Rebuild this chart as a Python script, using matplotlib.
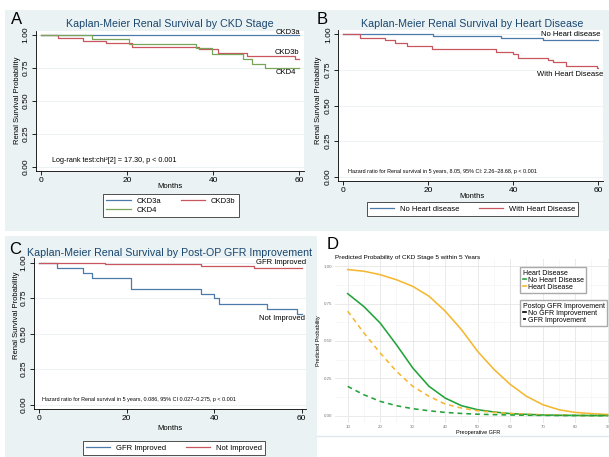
import matplotlib.pyplot as plt
from matplotlib.patches import Rectangle
from matplotlib.lines import Line2D

plt.rcParams['font.family'] = ['Liberation Sans', 'DejaVu Sans']

W, H = 609, 457

# A: Kaplan-Meier by CKD stage
a_ckd3a_t = [0, 60]
a_ckd3a_s = [1.0, 1.0]
a_ckd3b_t = [0, 4.1, 9.9, 15.1, 21.1, 36.8, 41.2, 47.8, 58.9, 60]
a_ckd3b_s = [1.0, 0.972, 0.955, 0.934, 0.909, 0.89, 0.86, 0.836, 0.815, 0.815]
a_ckd4_t = [0, 12, 20.6, 36, 39.7, 46.9, 49, 52, 60]
a_ckd4_s = [1.0, 0.967, 0.93, 0.896, 0.854, 0.816, 0.78, 0.747, 0.747]

# B: Kaplan-Meier by heart disease
b_no_t = [0, 21, 37, 47, 60]
b_no_s = [1.0, 0.988, 0.972, 0.958, 0.958]
b_with_t = [0, 3.9, 9.8, 12.2, 14.9, 20.8, 36, 40, 41, 48.2, 49.4, 52.5, 59.6, 60]
b_with_s = [1.0, 0.976, 0.958, 0.936, 0.917, 0.896, 0.877, 0.861, 0.837, 0.818, 0.802, 0.78, 0.762, 0.762]

# C: Kaplan-Meier by post-op GFR improvement
c_blue_t = [0, 4, 10, 12, 21, 37, 40, 41, 52, 59, 60]
c_blue_s = [1.0, 0.96, 0.925, 0.89, 0.817, 0.78, 0.75, 0.71, 0.674, 0.64, 0.64]
c_red_t = [0, 15, 37, 49, 60]
c_red_s = [1.0, 0.99, 0.98, 0.965, 0.965]

# D: predicted probability of CKD stage 5
gfr = [10, 15, 20, 25, 30, 35, 40, 45, 50, 55, 60, 65, 70, 75, 80, 85, 90]
hd_noimp = [0.978, 0.967, 0.944, 0.91, 0.866, 0.80, 0.70, 0.576, 0.43, 0.31, 0.21, 0.13, 0.074, 0.04, 0.022, 0.014, 0.008]
nohd_noimp = [0.817, 0.73, 0.62, 0.475, 0.32, 0.197, 0.118, 0.067, 0.04, 0.025, 0.014, 0.009, 0.005, 0.003, 0.002, 0.001, 0.001]
hd_imp = [0.70, 0.553, 0.42, 0.297, 0.197, 0.13, 0.078, 0.051, 0.033, 0.022, 0.015, 0.01, 0.006, 0.004, 0.002, 0.001, 0.001]
nohd_imp = [0.196, 0.14, 0.096, 0.067, 0.047, 0.033, 0.022, 0.015, 0.01, 0.007, 0.005, 0.003, 0.002, 0.001, 0.001, 0.001, 0.0]

BLUE = '#4a7bab'
RED = '#c9565f'
GREEN = '#79a55a'
BG = '#eaf2f3'
NAVY = '#1a476f'
D_GREEN = '#22a33a'
D_ORANGE = '#f5b731'


def fx(x):
    return x / W


def fy(y):
    return 1 - y / H


def axes_box(xp, xv, yp, yv, xlim, ylim):
    sx = (xp[1] - xp[0]) / (xv[1] - xv[0])
    sy = (yp[1] - yp[0]) / (yv[1] - yv[0])
    left = xp[0] + (xlim[0] - xv[0]) * sx
    right = xp[0] + (xlim[1] - xv[0]) * sx
    top = yp[0] + (ylim[1] - yv[0]) * sy
    bottom = yp[0] + (ylim[0] - yv[0]) * sy
    return [left / W, 1 - bottom / H, (right - left) / W, (bottom - top) / H]


fig = plt.figure(figsize=(W / 100, H / 100), dpi=100)
fig.patches.append(Rectangle((fx(5), fy(231)), fx(604), 221 / H, transform=fig.transFigure,
                             facecolor=BG, edgecolor='none', zorder=-10))
fig.patches.append(Rectangle((fx(5), fy(457)), fx(312), 221 / H, transform=fig.transFigure,
                             facecolor=BG, edgecolor='none', zorder=-10))
fig.patches.append(Rectangle((fx(317), fy(436)), fx(292), 205 / H, transform=fig.transFigure,
                             facecolor='white', edgecolor='none', zorder=-9))
fig.lines.append(Line2D([fx(317), 1], [fy(436), fy(436)], transform=fig.transFigure,
                        color='#dde7ee', lw=1))

KM_XLIM = (-1.2, 61)
KM_YLIM = (-0.03, 1.03)


def km_axes(pos):
    ax = fig.add_axes(pos)
    ax.set_xlim(*KM_XLIM)
    ax.set_ylim(*KM_YLIM)
    ax.set_xticks([0, 20, 40, 60])
    ax.set_yticks([0, 0.25, 0.5, 0.75, 1.0])
    ax.set_yticklabels(['0.00', '0.25', '0.50', '0.75', '1.00'], rotation=90, va='center')
    ax.tick_params(labelsize=6, length=3, width=0.6, pad=1.5)
    for s in ['top', 'right']:
        ax.spines[s].set_visible(False)
    for s in ['left', 'bottom']:
        ax.spines[s].set_linewidth(0.6)
    ax.grid(axis='y', color=BG, lw=0.7)
    ax.set_axisbelow(True)
    return ax


def km_legend(handles, labels, cx, cy, ncol=2):
    fig.legend(handles, labels, loc='center', bbox_to_anchor=(fx(cx), fy(cy)),
               ncol=ncol, fontsize=5.5, frameon=True, fancybox=False, framealpha=1,
               edgecolor='#333333', handlelength=3.2, columnspacing=2.5,
               handletextpad=0.8, borderpad=0.4, labelspacing=0.2).get_frame().set_linewidth(0.6)


TITLE_FS = 7.7

# panel A
ax = km_axes(axes_box([40.7, 299.3], [0, 60], [166.7, 34.7], [0, 1], KM_XLIM, KM_YLIM))
h3a, = ax.step(a_ckd3a_t, a_ckd3a_s, where='post', color=BLUE, lw=0.9)
h3b, = ax.step(a_ckd3b_t, a_ckd3b_s, where='post', color=RED, lw=0.9)
h4, = ax.step(a_ckd4_t, a_ckd4_s, where='post', color=GREEN, lw=0.9)
km_legend([h3a, h4, h3b], ['CKD3a', 'CKD4', 'CKD3b'], 171, 205.5)
fig.text(fx(300), fy(32), 'CKD3a', fontsize=5.5, ha='right', va='center')
fig.text(fx(299), fy(52), 'CKD3b', fontsize=5.5, ha='right', va='center')
fig.text(fx(296), fy(73), 'CKD4', fontsize=5.5, ha='right', va='center')
fig.text(fx(52), fy(161), 'Log-rank test:chi\u00b2[2] = 17.30, p < 0.001', fontsize=5.2, va='center')
fig.text(fx(170), fy(24), 'Kaplan-Meier Renal Survival by CKD Stage', fontsize=TITLE_FS,
         color=NAVY, ha='center', va='center')
fig.text(fx(18), fy(100), 'Renal Survival Probability', fontsize=5.5, rotation=90, ha='center', va='center')
fig.text(fx(170), fy(186), 'Months', fontsize=5.5, ha='center', va='center')
fig.text(fx(11), fy(19), 'A', fontsize=12, va='center')

# panel B
ax = km_axes(axes_box([343.3, 598.3], [0, 60], [176.7, 34.3], [0, 1], KM_XLIM, KM_YLIM))
hno, = ax.step(b_no_t, b_no_s, where='post', color=BLUE, lw=0.9)
hwith, = ax.step(b_with_t, b_with_s, where='post', color=RED, lw=0.9)
km_legend([hno, hwith], ['No Heart disease', 'With Heart Disease'], 472.5, 209)
fig.text(fx(600), fy(35), 'No Heart disease', fontsize=5.5, ha='right', va='center')
fig.text(fx(603), fy(74), 'With Heart Disease', fontsize=5.5, ha='right', va='center')
fig.text(fx(348), fy(171),
         'Hazard ratio for Renal survival in 5 years, 8.05, 95% CI: 2.26\u201328.68, p < 0.001',
         fontsize=3.9, va='center')
fig.text(fx(472), fy(24), 'Kaplan-Meier Renal Survival by Heart Disease', fontsize=TITLE_FS,
         color=NAVY, ha='center', va='center')
fig.text(fx(318), fy(100), 'Renal Survival Probability', fontsize=5.5, rotation=90, ha='center', va='center')
fig.text(fx(472), fy(197), 'Months', fontsize=5.5, ha='center', va='center')
fig.text(fx(317), fy(20), 'B', fontsize=12, va='center')

# panel C
ax = km_axes(axes_box([39.3, 301.7], [0, 60], [404.7, 262.7], [0, 1], KM_XLIM, KM_YLIM))
hb, = ax.step(c_blue_t, c_blue_s, where='post', color=BLUE, lw=0.9)
hr, = ax.step(c_red_t, c_red_s, where='post', color=RED, lw=0.9)
km_legend([hb, hr], ['GFR Improved', 'Not Improved'], 174, 448)
fig.text(fx(306), fy(262), 'GFR Improved', fontsize=5.5, ha='right', va='center')
fig.text(fx(305), fy(319), 'Not Improved', fontsize=5.5, ha='right', va='center')
fig.text(fx(42), fy(399),
         'Hazard ratio for Renal survival in 5 years, 0.086, 95% CI 0.027\u20130.275, p < 0.001',
         fontsize=3.9, va='center')
fig.text(fx(27), fy(253), 'Kaplan-Meier Renal Survival by Post-OP GFR Improvement', fontsize=TITLE_FS,
         color=NAVY, ha='left', va='center')
fig.text(fx(17), fy(315), 'Renal Survival Probability', fontsize=5.5, rotation=90, ha='center', va='center')
fig.text(fx(170), fy(429), 'Months', fontsize=5.5, ha='center', va='center')
fig.text(fx(9), fy(250), 'C', fontsize=12, va='center')

# panel D
D_XLIM = (6, 94)
D_YLIM = (-0.05, 1.05)
axd = fig.add_axes(axes_box([347.7, 607.7], [10, 90], [415.7, 266.3], [0, 1], D_XLIM, D_YLIM))
axd.set_xlim(*D_XLIM)
axd.set_ylim(*D_YLIM)
axd.set_xticks(range(10, 91, 10))
axd.set_xticks(range(15, 91, 10), minor=True)
axd.set_yticks([0, 0.25, 0.5, 0.75, 1.0])
axd.set_yticks([0.125, 0.375, 0.625, 0.875], minor=True)
axd.set_yticklabels(['0.00', '0.25', '0.50', '0.75', '1.00'])
axd.tick_params(which='both', length=0, labelsize=3.2, labelcolor='#777777', pad=1.5)
axd.grid(which='major', color='#e6e6e6', lw=0.6)
axd.grid(which='minor', color='#f2f2f2', lw=0.4)
for s in axd.spines.values():
    s.set_visible(False)
axd.plot(gfr, hd_noimp, color=D_ORANGE, lw=1.15)
axd.plot(gfr, nohd_noimp, color=D_GREEN, lw=1.15)
axd.plot(gfr, hd_imp, color=D_ORANGE, lw=1.15, ls=(0, (3, 2.5)))
axd.plot(gfr, nohd_imp, color=D_GREEN, lw=1.15, ls=(0, (3, 2.5)))
axd.set_xlabel('Preoperative GFR', fontsize=4, labelpad=0.5)
axd.set_ylabel('Predicted Probability', fontsize=4, labelpad=2)
fig.text(fx(335), fy(257), 'Predicted Probability of CKD Stage 5 within 5 Years', fontsize=4.6, va='center')
fig.text(fx(327), fy(244), 'D', fontsize=12, va='center')

leg_kw = dict(fontsize=5.0, title_fontsize=5.0, frameon=True, fancybox=False, framealpha=1,
              edgecolor='#aaaaaa', handlelength=0.45, handletextpad=0.35, borderpad=0.3,
              labelspacing=0.02, alignment='left', bbox_transform=fig.transFigure, loc='upper left')
leg1 = axd.legend([Line2D([], [], color=D_GREEN, lw=1.2), Line2D([], [], color=D_ORANGE, lw=1.2)],
                  ['No Heart Disease', 'Heart Disease'], title='Heart Disease',
                  bbox_to_anchor=(fx(517), fy(264)), **leg_kw)
axd.add_artist(leg1)
axd.legend([Line2D([], [], color='black', lw=1.2), Line2D([], [], color='black', lw=1.2, ls=(0, (2, 1)))],
           ['No GFR Improvement', 'GFR Improvement'], title='Postop GFR Improvement',
           bbox_to_anchor=(fx(517), fy(297)), **leg_kw)

fig.savefig('out.png', dpi=100)
